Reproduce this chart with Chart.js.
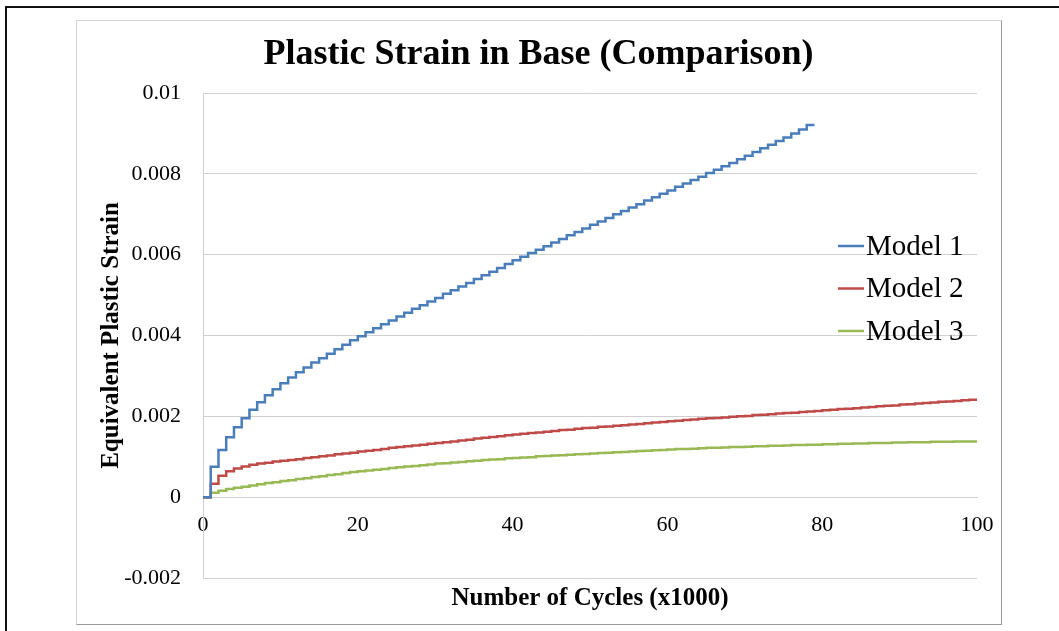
<!DOCTYPE html>
<html>
<head>
<meta charset="utf-8">
<script src="https://cdn.jsdelivr.net/npm/chart.js@4.4.0/dist/chart.umd.min.js"></script>
<style>
  html, body { margin: 0; padding: 0; background: #fff; width: 1059px; height: 631px; overflow: hidden; }
  #frame { position: absolute; left: 5px; top: 6px; width: 1100px; height: 700px; border: 2px solid #111; }
  #panel { position: absolute; left: 76px; top: 20px; width: 924px; height: 603px;
           border: 1px solid #d4d4d4; border-right-color: #9a9a9a; border-bottom-color: #9a9a9a; }
  #wrap { position: absolute; left: 76px; top: 20px; width: 925px; height: 604px; }
</style>
</head>
<body>
<div id="frame"></div>
<div id="panel"></div>
<div id="wrap"><canvas id="c" width="925" height="604"></canvas></div>
<script>
// Number of cycles (thousands)
const cycles = [
  0, 1, 2, 3, 4, 5, 6, 7, 8, 9, 10, 11, 12, 13, 14, 15, 16, 17, 18, 19, 20,
  21, 22, 23, 24, 25, 26, 27, 28, 29, 30, 31, 32, 33, 34, 35, 36, 37, 38, 39, 40,
  41, 42, 43, 44, 45, 46, 47, 48, 49, 50, 51, 52, 53, 54, 55, 56, 57, 58, 59, 60,
  61, 62, 63, 64, 65, 66, 67, 68, 69, 70, 71, 72, 73, 74, 75, 76, 77, 78, 79, 80,
  81, 82, 83, 84, 85, 86, 87, 88, 89, 90, 91, 92, 93, 94, 95, 96, 97, 98, 99, 100
];

// Equivalent plastic strain per model (one value per cycle step)
const model1 = [
  0, 0.00075, 0.00117, 0.00148, 0.00173, 0.00195, 0.00216, 0.00235, 0.00252, 0.00267, 0.00282,
  0.00296, 0.00309, 0.00321, 0.00333, 0.00344, 0.00355, 0.00366, 0.00377, 0.00388, 0.00398,
  0.00408, 0.00418, 0.00428, 0.00437, 0.00447, 0.00456, 0.00466, 0.00475, 0.00484, 0.00493,
  0.00503, 0.00512, 0.00521, 0.00530, 0.00540, 0.00549, 0.00558, 0.00567, 0.00577, 0.00586,
  0.00595, 0.00604, 0.00612, 0.00621, 0.00630, 0.00639, 0.00648, 0.00656, 0.00665, 0.00674,
  0.00682, 0.00691, 0.00700, 0.00708, 0.00717, 0.00725, 0.00734, 0.00742, 0.00751, 0.00759,
  0.00768, 0.00776, 0.00785, 0.00793, 0.00802, 0.00810, 0.00819, 0.00827, 0.00836, 0.00845,
  0.00854, 0.00863, 0.00872, 0.00881, 0.00890, 0.00900, 0.00910, 0.00921, 0.00921
];

const model2 = [
  0, 0.00033, 0.00053, 0.00064, 0.00071, 0.00076, 0.00080, 0.00083, 0.00085, 0.00088, 0.00090,
  0.00092, 0.00094, 0.00097, 0.00099, 0.00101, 0.00103, 0.00106, 0.00108, 0.00110, 0.00113,
  0.00115, 0.00117, 0.00119, 0.00122, 0.00124, 0.00126, 0.00128, 0.00130, 0.00132, 0.00134,
  0.00136, 0.00138, 0.00140, 0.00142, 0.00145, 0.00147, 0.00149, 0.00151, 0.00153, 0.00155,
  0.00157, 0.00159, 0.00160, 0.00162, 0.00164, 0.00166, 0.00167, 0.00169, 0.00171, 0.00172,
  0.00174, 0.00175, 0.00177, 0.00178, 0.00180, 0.00181, 0.00183, 0.00185, 0.00186, 0.00188,
  0.00189, 0.00191, 0.00192, 0.00194, 0.00195, 0.00196, 0.00197, 0.00199, 0.00200, 0.00201,
  0.00203, 0.00204, 0.00205, 0.00207, 0.00208, 0.00209, 0.00211, 0.00212, 0.00213, 0.00215,
  0.00216, 0.00218, 0.00219, 0.00220, 0.00222, 0.00223, 0.00225, 0.00226, 0.00227, 0.00229,
  0.00230, 0.00232, 0.00233, 0.00234, 0.00236, 0.00237, 0.00238, 0.00240, 0.00241, 0.00242
];

const model3 = [
  0, 0.00011, 0.00016, 0.00020, 0.00023, 0.00026, 0.00029, 0.00032, 0.00035, 0.00037, 0.00040,
  0.00042, 0.00045, 0.00047, 0.00050, 0.00052, 0.00055, 0.00057, 0.00060, 0.00062, 0.00064,
  0.00066, 0.00068, 0.00070, 0.00072, 0.00074, 0.00076, 0.00077, 0.00079, 0.00081, 0.00083,
  0.00084, 0.00086, 0.00087, 0.00089, 0.00090, 0.00092, 0.00093, 0.00094, 0.00096, 0.00097,
  0.00098, 0.00099, 0.00101, 0.00102, 0.00103, 0.00104, 0.00105, 0.00106, 0.00107, 0.00108,
  0.00109, 0.00110, 0.00111, 0.00112, 0.00113, 0.00114, 0.00115, 0.00116, 0.00117, 0.00118,
  0.00119, 0.00119, 0.00120, 0.00121, 0.00122, 0.00122, 0.00123, 0.00124, 0.00124, 0.00125,
  0.00126, 0.00126, 0.00127, 0.00127, 0.00128, 0.00129, 0.00129, 0.00130, 0.00130, 0.00131,
  0.00131, 0.00132, 0.00132, 0.00133, 0.00133, 0.00134, 0.00134, 0.00134, 0.00135, 0.00135,
  0.00136, 0.00136, 0.00136, 0.00137, 0.00137, 0.00137, 0.00138, 0.00138, 0.00138, 0.00139
];

const seriesNames = ['Model 1', 'Model 2', 'Model 3'];
const seriesValues = [model1, model2, model3];
const seriesColors = ['#4a7ebb', '#be4b48', '#98b954'];

const SERIF = "'Liberation Serif', 'Times New Roman', Times, serif";
const gridColor = '#d0d0d0';

// Legend drawn inside the plot area, to the right
const innerLegend = {
  id: 'innerLegend',
  afterDatasetsDraw(chart) {
    const { ctx, chartArea } = chart;
    const x0 = chartArea.right - 139;
    const y0 = chartArea.top + 153;
    const gap = 42.5;
    ctx.save();
    ctx.font = '29px ' + SERIF;
    ctx.textBaseline = 'middle';
    ctx.textAlign = 'left';
    chart.data.datasets.forEach((ds, i) => {
      const y = y0 + i * gap;
      ctx.strokeStyle = ds.borderColor;
      ctx.lineWidth = 2.5;
      ctx.beginPath();
      ctx.moveTo(x0, y);
      ctx.lineTo(x0 + 26, y);
      ctx.stroke();
      ctx.fillStyle = '#000';
      ctx.fillText(ds.label, x0 + 28, y + 1);
    });
    ctx.restore();
  }
};

const datasets = seriesNames.map((name, k) => ({
  label: name,
  data: seriesValues[k].map((v, i) => ({ x: cycles[i], y: v })),
  borderColor: seriesColors[k],
  backgroundColor: seriesColors[k],
  borderWidth: 2.5,
  pointRadius: 0,
  stepped: true,
  tension: 0,
  fill: false
}));

new Chart(document.getElementById('c'), {
  type: 'line',
  data: { datasets },
  options: {
    responsive: false,
    animation: false,
    events: [],
    layout: { padding: { left: 0, right: 0, top: 0, bottom: 0 } },
    scales: {
      x: {
        type: 'linear',
        min: 0,
        max: 100,
        position: { y: 0 },
        grid: { display: false, drawTicks: false },
        border: { display: true, color: gridColor, width: 1 },
        ticks: {
          stepSize: 20,
          padding: 15,
          maxRotation: 0,
          color: '#000',
          font: { family: SERIF, size: 22 }
        },
        // keep a fixed gap between the plot and the right edge
        afterFit(scale) { scale.paddingRight = 24; }
      },
      y: {
        type: 'linear',
        min: -0.002,
        max: 0.01,
        grid: { color: gridColor, lineWidth: 1, drawTicks: false },
        border: { display: true, color: gridColor, width: 1 },
        ticks: {
          stepSize: 0.002,
          padding: 22,
          color: '#000',
          font: { family: SERIF, size: 22 },
          callback: v => String(parseFloat(Number(v).toFixed(3)))
        },
        title: {
          display: true,
          text: 'Equivalent Plastic Strain',
          color: '#000',
          font: { family: SERIF, size: 25, weight: 'bold' },
          padding: { top: 21, bottom: 0 }
        },
        afterFit(scale) { scale.width = 127; }
      }
    },
    plugins: {
      legend: { display: false },
      tooltip: { enabled: false },
      title: {
        display: true,
        text: 'Plastic Strain in Base (Comparison)',
        color: '#000',
        font: { family: SERIF, size: 36, weight: 'bold' },
        padding: { top: 13.4, bottom: 16.4 }
      },
      subtitle: {
        display: true,
        position: 'bottom',
        fullSize: false,
        text: 'Number of Cycles (x1000)',
        color: '#000',
        font: { family: SERIF, size: 25, weight: 'bold' },
        padding: { top: 6, bottom: 10 }
      }
    }
  },
  plugins: [innerLegend]
});
</script>
</body>
</html>
